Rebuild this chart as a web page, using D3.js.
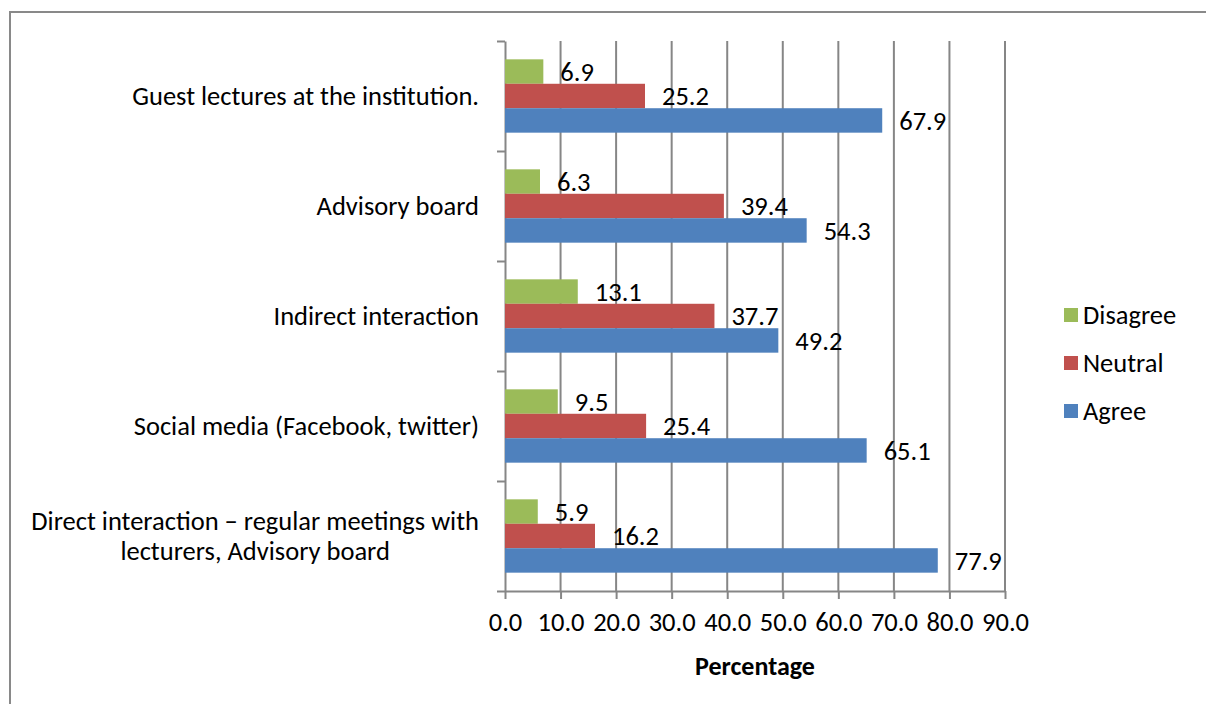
<!DOCTYPE html>
<html>
<head>
<meta charset="utf-8">
<script src="https://cdn.jsdelivr.net/npm/d3@7"></script>
<style>
  body { margin: 0; background: #fff; }
  svg text { font-family: Carlito, Calibri, Lato, sans-serif; fill: #000; }
</style>
</head>
<body>
<div id="chart"></div>
<script>
var categories = [
  "Guest lectures at the institution.",
  "Advisory board",
  "Indirect interaction",
  "Social media (Facebook, twitter)",
  "Direct interaction \u2013 regular meetings with|lecturers, Advisory board"
];
var seriesNames = ["Disagree", "Neutral", "Agree"];
var disagree = [6.9, 6.3, 13.1, 9.5, 5.9];
var neutral = [25.2, 39.4, 37.7, 25.4, 16.2];
var agree = [67.9, 54.3, 49.2, 65.1, 77.9];
var colors = ["#9bbb59", "#c0504d", "#4f81bd"];
var xTicks = [0, 10, 20, 30, 40, 50, 60, 70, 80, 90];

var fontSize = "26.5px";
var width = 1206, height = 704;
var margin = {top: 41, left: 505, right: 201, bottom: 113};
var graphWidth = width - margin.left - margin.right;
var graphHeight = height - margin.top - margin.bottom;

var svg = d3.select("#chart").append("svg")
  .attr("width", width)
  .attr("height", height);

// outer frame
svg.append("rect")
  .attr("x", 10).attr("y", 12)
  .attr("width", 1220).attr("height", 720)
  .attr("fill", "none")
  .attr("stroke", "#898989")
  .attr("stroke-width", 2);

var g = svg.append("g")
  .attr("transform", "translate(" + margin.left + "," + margin.top + ")");

var x = d3.scaleLinear().domain([0, 90]).range([0, graphWidth]);
var y = d3.scaleBand().domain(d3.range(categories.length)).range([0, graphHeight]);
var inner = d3.scaleBand().domain(d3.range(3)).range([0, y.bandwidth()]).paddingInner(0).paddingOuter(0.75);

// grid lines
g.selectAll(".grid")
  .data(xTicks.slice(1))
  .enter().append("line")
  .attr("class", "grid")
  .attr("x1", d => x(d)).attr("x2", d => x(d))
  .attr("y1", 0).attr("y2", graphHeight)
  .attr("stroke", "#868686")
  .attr("stroke-width", 2);

// x axis
var xAxis = g.append("g")
  .attr("transform", "translate(0," + graphHeight + ")")
  .call(d3.axisBottom(x).tickValues(xTicks).tickFormat(d3.format(".1f")).tickSize(8).tickSizeOuter(0).tickPadding(13));
xAxis.select(".domain").attr("stroke", "#868686").attr("stroke-width", 2);
xAxis.selectAll(".tick line").attr("stroke", "#868686").attr("stroke-width", 2);
xAxis.selectAll("text").style("font-size", fontSize).attr("dy", "0.71em");

// y axis
var yAxis = g.append("g")
  .call(d3.axisLeft(d3.scaleLinear().domain([0, 5]).range([graphHeight, 0]))
    .tickValues(d3.range(6)).tickSize(8).tickSizeOuter(0).tickFormat(""));
yAxis.select(".domain").attr("stroke", "#868686").attr("stroke-width", 2);
yAxis.selectAll(".tick line").attr("stroke", "#868686").attr("stroke-width", 2);

// category labels (wrapped labels are centred on the first line)
categories.forEach(function(c, i) {
  var lines = c.split("|");
  var cy = y(i) + y.bandwidth() / 2;
  if (lines.length === 1) {
    g.append("text")
      .attr("x", -26).attr("y", cy)
      .attr("dy", "0.35em")
      .attr("text-anchor", "end")
      .style("font-size", fontSize)
      .text(lines[0]);
  } else {
    var first = g.append("text")
      .attr("x", -26).attr("y", cy - 15)
      .attr("dy", "0.35em")
      .attr("text-anchor", "end")
      .style("font-size", fontSize)
      .text(lines[0]);
    var w = first.node().getComputedTextLength();
    g.append("text")
      .attr("x", -26 - w / 2).attr("y", cy + 15)
      .attr("dy", "0.35em")
      .attr("text-anchor", "middle")
      .style("font-size", fontSize)
      .text(lines[1]);
  }
});

// bars
var series = [disagree, neutral, agree];
series.forEach(function(vals, s) {
  var grp = g.append("g");
  grp.selectAll("rect")
    .data(vals)
    .enter().append("rect")
    .attr("x", 0)
    .attr("y", (d, i) => y(i) + inner(s))
    .attr("width", d => x(d))
    .attr("height", inner.bandwidth())
    .attr("fill", colors[s]);
  grp.selectAll("text")
    .data(vals)
    .enter().append("text")
    .attr("x", d => x(d) + 17)
    .attr("y", (d, i) => y(i) + inner(s) + inner.bandwidth() / 2)
    .attr("dy", "0.35em")
    .style("font-size", fontSize)
    .text(d => d.toFixed(1));
});

// axis title
g.append("text")
  .attr("x", graphWidth / 2)
  .attr("y", graphHeight + 75)
  .attr("dy", "0.35em")
  .attr("text-anchor", "middle")
  .style("font-size", "26px")
  .style("font-weight", "bold")
  .text("Percentage");

// legend
var legend = svg.append("g").attr("transform", "translate(1064,315)");
seriesNames.forEach(function(n, i) {
  var row = legend.append("g").attr("transform", "translate(0," + (i * 48) + ")");
  row.append("rect")
    .attr("x", 0).attr("y", -7)
    .attr("width", 14).attr("height", 14)
    .attr("fill", colors[i]);
  row.append("text")
    .attr("x", 19).attr("y", 0)
    .attr("dy", "0.35em")
    .style("font-size", fontSize)
    .text(n);
});
</script>
</body>
</html>
